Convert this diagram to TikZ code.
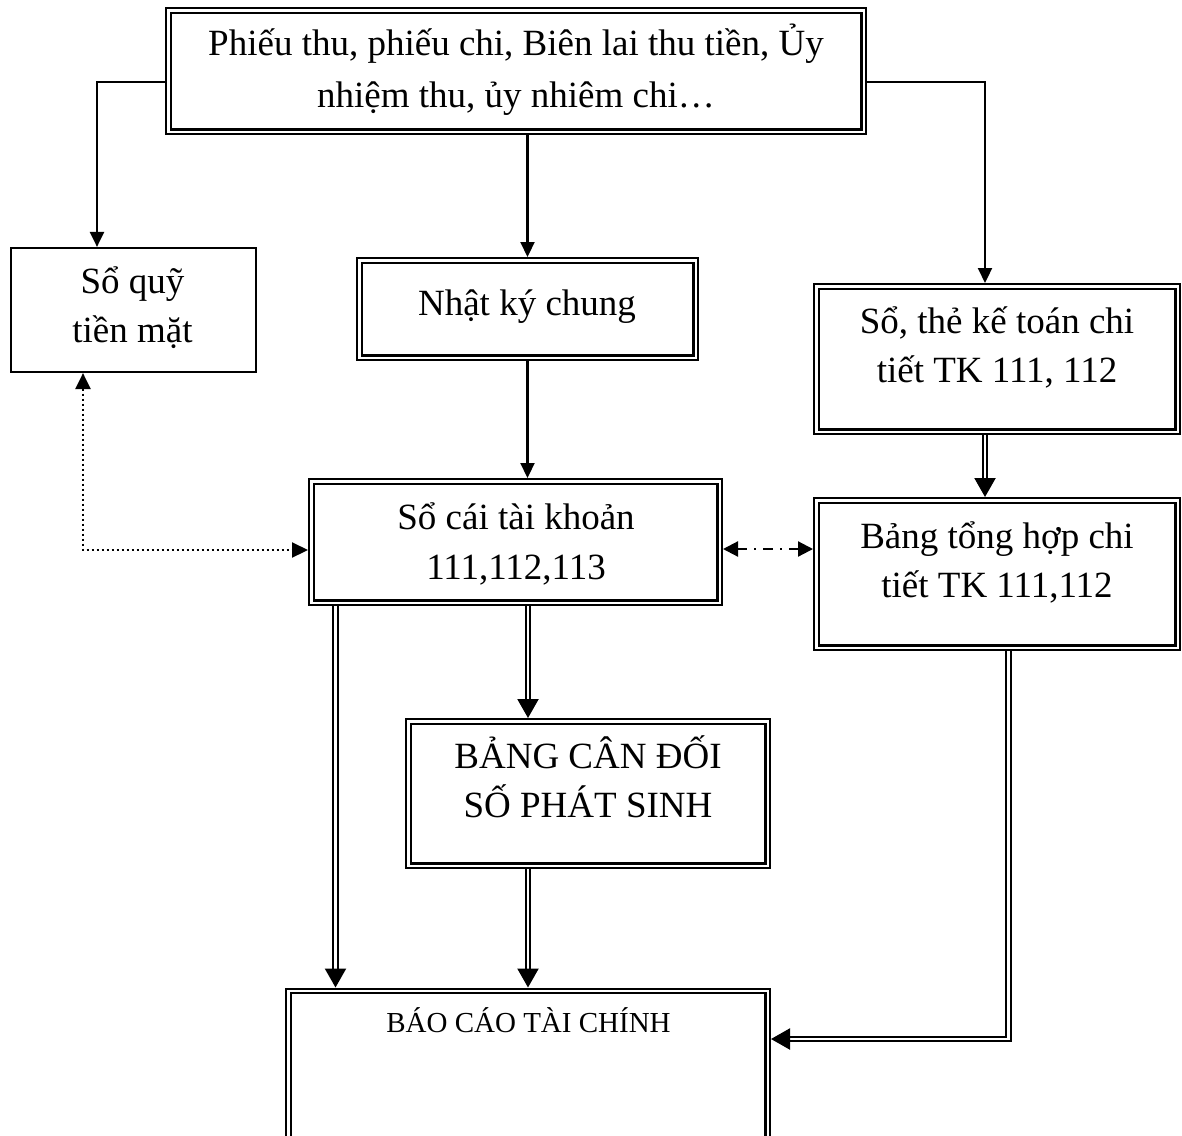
\documentclass[tikz,border=0pt]{standalone}
\usepackage{fontspec}
\setmainfont{Liberation Serif}
\usetikzlibrary{arrows.meta}
\begin{document}
\begin{tikzpicture}[x=1pt,y=-1pt,
  box/.style={draw, line width=2.2pt, rectangle, inner sep=0pt, outer sep=1.1pt},
  dbox/.style={draw, line width=2.3pt, double, double distance=2.2pt,
    rectangle, inner sep=0pt, outer sep=3.4pt},
  lbl/.style={font=\fontsize{37}{49}\selectfont, align=center,
    inner sep=0pt, anchor=base},
  conn/.style={line width=2.2pt, -{Triangle[length=15pt,width=14pt]}},
  dconn/.style={line width=2.2pt, double, double distance=2.4pt,
    -{Triangle[length=19pt,width=21pt]}},
  dotconn/.style={line width=2.2pt, dash pattern=on 2pt off 3pt,
    {Triangle[length=16pt,width=15pt]}-{Triangle[length=16pt,width=15pt]}},
  dashdotconn/.style={line width=2.2pt, dash pattern=on 10pt off 7pt on 2pt off 7pt,
    {Triangle[length=15pt,width=15pt]}-{Triangle[length=15pt,width=15pt]}},
]
\clip (0,0) rectangle (1182,1135);
\fill[white] (0,0) rectangle (1182,1135);

% boxes (outer edge of each double frame given by size + 6.8pt)
\node[dbox, minimum width=695.2pt, minimum height=121.2pt] (top) at (516,71) {};
\node[box, minimum width=245pt, minimum height=124pt] (squy) at (133.5,310) {};
\node[dbox, minimum width=336.2pt, minimum height=97.2pt] (nkc) at (527.5,309) {};
\node[dbox, minimum width=361.2pt, minimum height=145.2pt] (sothe) at (997,359) {};
\node[dbox, minimum width=408.2pt, minimum height=121.2pt] (socai) at (515.5,542) {};
\node[dbox, minimum width=361.2pt, minimum height=147.2pt] (bth) at (997,574) {};
\node[dbox, minimum width=359.2pt, minimum height=144.2pt] (bcd) at (588,793.5) {};
\node[dbox, minimum width=479.2pt, minimum height=176.2pt] (bctc) at (528,1079) {};

% texts (anchored at the baseline of the last line)
\node[lbl] (ttop) at (516,107) {Phiếu thu, phiếu chi, Biên lai thu tiền, Ủy\\[3pt] nhiệm thu, ủy nhiêm chi…};
\node[lbl] (tsquy) at (132.5,342) {Sổ quỹ\\ tiền mặt};
\node[lbl] (tnkc) at (527,315) {Nhật ký chung};
\node[lbl] (tsothe) at (997,382) {Sổ, thẻ kế toán chi\\ tiết TK 111, 112};
\node[lbl] (tsocai) at (516,579) {Sổ cái tài khoản\\[1pt] 111,112,113};
\node[lbl] (tbth) at (997,597) {Bảng tổng hợp chi\\ tiết TK 111,112};
\node[lbl] (tbcd) at (588,817) {BẢNG CÂN ĐỐI\\ SỐ PHÁT SINH};
\node[lbl, font=\fontsize{29}{36}\selectfont] (tbctc) at (528.5,1032) {BÁO CÁO TÀI CHÍNH};

% connectors
\coordinate (dc) at (83,550);
\coordinate (rb) at (1008.5,1039);
\draw[conn] ([yshift=-11pt]top.west) -| ([xshift=-36.5pt]squy.north);
\draw[conn] (nkc.north |- top.south) -- (nkc.north);
\draw[conn] ([yshift=-11pt]top.east) -| ([xshift=-12pt]sothe.north);
\draw[conn] (nkc.south) -- (nkc.south |- socai.north);
\draw[dotconn] (squy.south -| dc) -- (dc) -- (socai.west |- dc);
\draw[dashdotconn] ([yshift=-7pt]socai.east) -- ([yshift=-7pt]socai.east -| bth.west);
\draw[dconn] ([xshift=-12pt]sothe.south) -- ([xshift=-12pt]bth.north);
\draw[dconn] ([xshift=-180pt]socai.south) -- ([xshift=-180pt]socai.south |- bctc.north);
\draw[dconn] ([xshift=12.5pt]socai.south) -- ([xshift=12.5pt]socai.south |- bcd.north);
\draw[dconn] ([xshift=-60pt]bcd.south) -- ([xshift=-60pt]bcd.south |- bctc.north);
\draw[dconn] ([xshift=11.5pt]bth.south) |- (bctc.east |- rb);
\end{tikzpicture}
\end{document}
